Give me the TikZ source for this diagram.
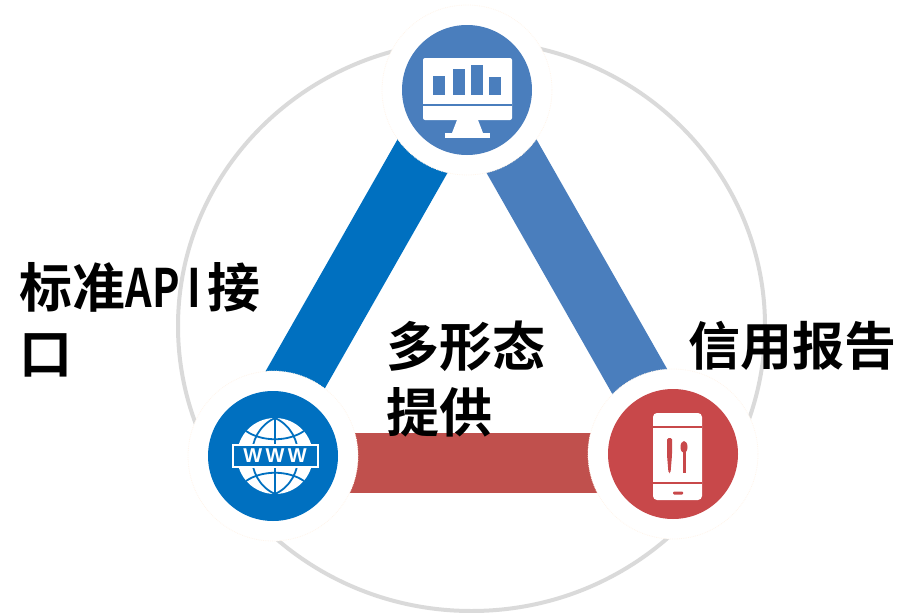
\documentclass[tikz,border=0pt]{standalone}
\usepackage{fontspec}
\usepackage{xcolor}
\setmainfont{Noto Sans CJK SC}[BoldFont={* Bold}]
\newfontfamily\cjkbold{Noto Sans CJK SC Bold}
\definecolor{hubblue}{HTML}{4A7EBD}
\definecolor{webblue}{HTML}{0070C0}
\definecolor{hubred}{HTML}{C8484A}
\definecolor{barred}{HTML}{C0504D}
\definecolor{ringgrey}{HTML}{DADADA}
\newcommand{\fixw}[1]{\makebox[27.5pt]{\scalebox{0.78}[1]{#1}}}
\tikzset{
  hub/.style={circle, minimum size=130pt, inner sep=0pt, fill=#1},
  halo/.style={circle, fill=white, draw=orange!8, densely dotted, line width=0.8pt, minimum size=170pt, inner sep=0pt},
  bar/.style={line width=60pt, draw=#1},
  caption/.style={anchor=north west, align=left, inner sep=0pt, font=\cjkbold\fontsize{53pt}{66pt}\selectfont, text=black},
  iconline/.style={line width=1.8pt}
}
\begin{document}
\begin{tikzpicture}[x=1pt,y=-1pt]
        \useasboundingbox (0,0) rectangle (897,613);

        % Define the outer ring
        \draw[ringgrey, line width=4pt] (471.5,326) ellipse (293.5 and 285);

        % Free ends of the bars
        \coordinate (barAtop) at (426,150);
        \coordinate (barAend) at (286,396);
        \coordinate (barBtop) at (508,150);
        \coordinate (barBend) at (648,396);
        \coordinate (barCtop) at (300,463);
        \coordinate (barCend) at (640,463);

        % Draw the bars
        \draw[bar=webblue] (barAtop) -- (barAend);
        \draw[bar=hubblue] (barBtop) -- (barBend);
        \draw[bar=barred] (barCtop) -- (barCend);

        % Plot the white halos
        \node[halo] (haloT) at (467,90) {};
        \node[halo] (haloL) at (273,456) {};
        \node[halo] (haloR) at (673,454) {};

        % Plot the hubs
        \node[hub=hubblue] (monitor) at (467,90) {};
        \node[hub=webblue] (www) at (273,456) {};
        \node[hub=hubred] (phone) at (673,454) {};

        % Monitor icon
        \fill[white, rounded corners=2pt] (423,58) rectangle (512,120);
        \fill[white] (457,120) -- (452,133) -- (483,133) -- (478,120) -- cycle;
        \fill[white] (445,133) rectangle (490,138);
        \draw[hubblue, iconline] (423,105) -- (512,105);
        \foreach \xa/\ya in {433/76, 453/69, 471/65, 489/77}
            \fill[hubblue] (\xa,\ya) rectangle (\xa+12,95);

        % Globe icon
        \fill[white] (275,456) circle (38);
        \draw[webblue, iconline] (275,418) -- (275,494);
        \draw[webblue, iconline] (275,418) .. controls (244,432) and (244,480) .. (275,494);
        \draw[webblue, iconline] (275,418) .. controls (306,432) and (306,480) .. (275,494);
        \draw[webblue, iconline] (246,431) .. controls (262,442) and (288,442) .. (304,431);
        \draw[webblue, iconline] (246,481) .. controls (262,470) and (288,470) .. (304,481);
        \node[draw=white, line width=2pt, fill=webblue, text=white, minimum width=85pt, minimum height=22pt, inner sep=0pt, font=\fontspec{Liberation Sans}\bfseries\fontsize{20pt}{20pt}\selectfont] (band) at (275,456) {W\,W\,W};

        % Phone icon
        \fill[white, rounded corners=4pt] (653,413) rectangle (702,500);
        \draw[hubred, iconline] (653,427) -- (702,427);
        \draw[hubred, iconline] (653,483) -- (702,483);
        \fill[hubred, rounded corners=1pt] (673,491.5) rectangle (683,494.5);
        \fill[hubred, rounded corners=1.5pt] (667,438) -- (672,438) -- (672,455) -- (670.5,473) -- (668.5,473) -- (667,455) -- cycle;
        \fill[hubred] (684,447) ellipse (3.5 and 6);
        \fill[hubred] (682.5,450) rectangle (685.5,473);

        % Add labels
        \node[caption] (api) at (19,262) {标准\fixw{A}\fixw{P}\fixw{I}接\\口};
        \node[caption] (forms) at (386,321) {多形态\\提供};
        \node[caption, font=\cjkbold\fontsize{52pt}{66pt}\selectfont] (credit) at (688,321) {信用报告};
    \end{tikzpicture}
\end{document}
